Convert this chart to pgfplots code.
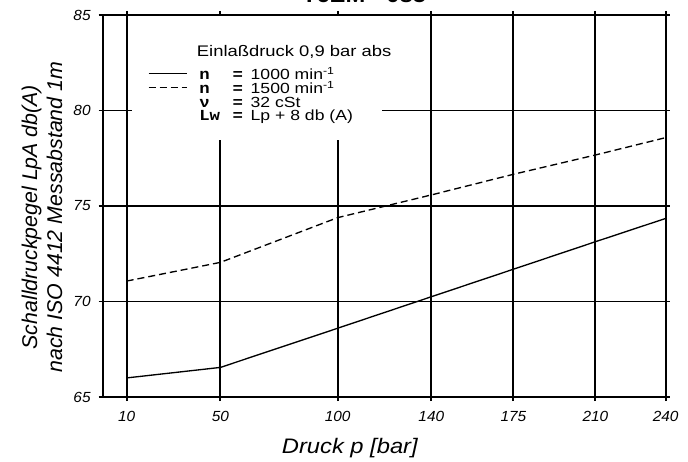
\documentclass[border=0pt]{standalone}
\usepackage{fontspec}
\setmainfont{Liberation Sans}
\newfontfamily\sfs[FakeStretch=1.13]{Liberation Sans}
\newfontfamily\sfl[FakeStretch=1.2]{Liberation Sans}
\newfontfamily\sft[FakeStretch=1.05]{Liberation Sans}
\newfontfamily\monob[FakeStretch=1.13]{Liberation Mono}
\usepackage{pgfplots}
\pgfplotsset{compat=1.18}
\newcommand{\nm}[1]{\makebox[25pt][l]{\monob\bfseries\fontsize{11.5}{12}\selectfont #1}\makebox[13.5pt][l]{\monob\bfseries\fontsize{11.5}{12}\selectfont =}}
\begin{document}
\begin{tikzpicture}
\begin{axis}[
  at={(0,0)}, anchor=south west,
  scale only axis, width=422.25pt, height=286.5pt,
  xmin=-0.25, xmax=240, ymin=65, ymax=85,
  xtick={10,50,100,140,175,210,240}, ytick={65,70,75,80,85},
  grid=major, major grid style={black, line width=1.4pt},
  axis line style={black, line width=1.4pt},
  tick style={black, line width=1.4pt}, tick align=outside, major tick length=3pt,
  /pgf/number format/assume math mode=true,
  ticklabel style={font=\sft\itshape\fontsize{11}{12}\selectfont},
  xticklabel style={yshift=-4pt},
  yticklabel style={xshift=-2.5pt},
  xlabel={Druck p [bar]},
  xlabel style={font=\sfs\itshape\fontsize{15.75}{18}\selectfont, at={(axis description cs:0.439,-0.1473)}, anchor=base},
  ylabel={Schalldruckpegel LpA db(A)\\nach ISO 4412 Messabstand 1m},
  ylabel style={font=\itshape\fontsize{16}{18.75}\selectfont, align=center, at={(axis description cs:-0.1078,0.471)}, anchor=center},
  legend style={at={(axis cs:19.1,82.10)}, anchor=north west, draw=none, fill=none, inner sep=0pt, outer sep=0pt, row sep=1.1pt, column sep=9pt, font=\sfl\fontsize{11}{12}\selectfont, nodes={inner sep=0pt, text height=6.9pt, text depth=2.3pt}},
  legend cell align=left,
  legend image code/.code={\draw[#1] (0pt,2.3pt) -- (28.5pt,2.3pt);},
]
\fill[white] (axis cs:12.3,78.45) rectangle (axis cs:118.9,84.94);
\node[anchor=base west, inner sep=0pt, font=\sfl\fontsize{11.5}{12}\selectfont] at (axis cs:39.86,82.83) {Einlaßdruck 0,9 bar abs};
\addplot[black, line width=1pt] coordinates {(10,66.0) (50,66.55) (100,68.6) (140,70.25) (175,71.69) (210,73.13) (240,74.35)};
\addlegendentry{\nm{n}1000 min\textsuperscript{-1}}
\addplot[black, line width=1pt, dash pattern=on 5.25pt off 3pt] coordinates {(10,71.07) (50,72.05) (100,74.39) (140,75.58) (175,76.66) (210,77.67) (240,78.58)};
\addlegendentry{\nm{n}1500 min\textsuperscript{-1}}
\addlegendimage{empty legend}
\addlegendentry{\nm{ν}32 cSt}
\addlegendimage{empty legend}
\addlegendentry{\nm{Lw}Lp + 8 db (A)}
\end{axis}
\node[anchor=base, font=\sfs\bfseries\fontsize{15.75}{18}\selectfont] at (196pt,296pt) {T6EM - 085};
\pgfresetboundingbox
\useasboundingbox (-77pt,-48pt) rectangle (438.98pt,297.75pt);
\end{tikzpicture}
\end{document}
